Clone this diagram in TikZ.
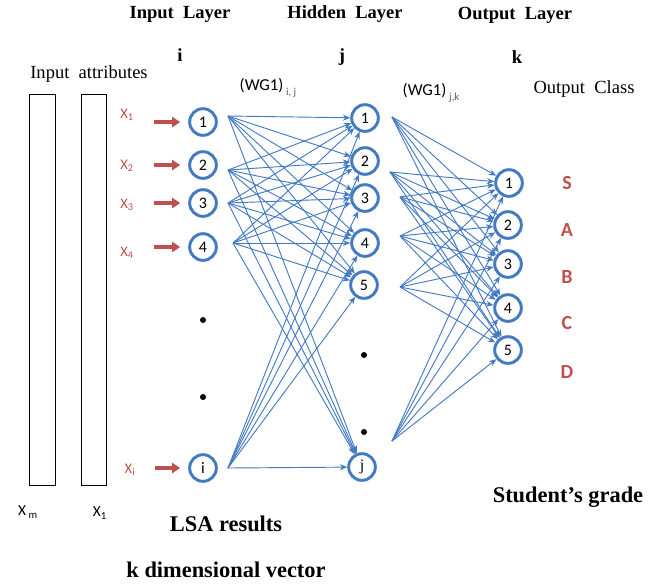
\documentclass[tikz,border=0pt]{standalone}
\usepackage{fontspec}
\setmainfont{Liberation Serif}
\newfontfamily\calib{Carlito}
\usetikzlibrary{arrows.meta}
\definecolor{nnblue}{RGB}{68,122,194}
\definecolor{nnred}{RGB}{192,80,77}
\tikzset{
  neuron/.style={circle,draw=nnblue,line width=2.2pt,minimum size=20pt,inner sep=0pt,
    font=\calib\fontsize{12}{13}\selectfont},
  layertitle/.style={font=\bfseries\fontsize{13.9}{15}\selectfont,inner sep=0.75pt},
  bigtitle/.style={font=\bfseries\fontsize{16.8}{18}\selectfont,inner sep=0.75pt},
  plaintext/.style={font=\fontsize{13.9}{15}\selectfont,inner sep=0.75pt},
  xlabel/.style={text=nnred,font=\calib\fontsize{11}{12}\selectfont,inner sep=0.75pt},
  grade/.style={text=nnred,font=\calib\bfseries\fontsize{15}{16}\selectfont,inner sep=0.75pt},
  wlabel/.style={font=\calib\fontsize{12.5}{13}\selectfont,inner sep=0.75pt},
  wt/.style={draw=nnblue,line width=0.7pt,-{Stealth[length=5.5pt,width=4.5pt]}},
  inarrow/.style={draw=nnred,line width=3pt,-{Triangle[length=6pt,width=7.5pt]},
    shorten <=14pt,shorten >=6pt},
  vdot/.style={fill=black,circle,inner sep=0pt,minimum size=4.5pt}
}
\newcommand{\wsub}[1]{\,\raisebox{-3.5pt}{\textcolor{black!65}{\fontsize{8}{9}\selectfont #1}}}
\begin{document}
\begin{tikzpicture}[x=0.75pt,y=0.75pt,yscale=-1,xscale=1]
\useasboundingbox (0,0) rectangle (670,587);

% titles
\node[layertitle] (tin) at (180,14) {Input\ \ Layer};
\node[layertitle] (thid) at (345,14) {Hidden\ \ Layer};
\node[layertitle] (tout) at (515,15) {Output\ \ Layer};
\node[layertitle] (li) at (180,55) {i};
\node[layertitle] (lj) at (342,57) {j};
\node[layertitle] (lk) at (517,57) {k};
\node[plaintext] (tattr) at (89,74) {Input\ \ attributes};
\node[plaintext] (tclass) at (584,89) {Output\ \ Class};
\node[wlabel] (wij) at (268,88) {(WG1)\wsub{i, j}};
\node[wlabel] (wjk) at (431,93) {(WG1)\wsub{j,k}};

% attribute columns
\draw[line width=0.6pt] (29,94) rectangle (55,485);
\draw[line width=0.6pt] (81,94) rectangle (106,485);
\node[font=\calib\fontsize{11.5}{12}\selectfont,inner sep=0.75pt] (xm) at (28,512) {X\,\textsubscript{m}};
\node[font=\calib\fontsize{11.5}{12}\selectfont,inner sep=0.75pt] (xone) at (100,513) {X\textsubscript{1}};

% input layer
\node[neuron] (in1) at (203,122) {1};
\node[neuron] (in2) at (203,165) {2};
\node[neuron] (in3) at (203,203) {3};
\node[neuron] (in4) at (203,247) {4};
\node[neuron] (ini) at (203,468) {i};
\node[vdot] (d1) at (203,320) {};
\node[vdot] (d2) at (203,397) {};

% hidden layer
\node[neuron] (h1) at (365,118) {1};
\node[neuron] (h2) at (365,161) {2};
\node[neuron] (h3) at (365,198) {3};
\node[neuron] (h4) at (365,243) {4};
\node[neuron] (h5) at (364,285) {5};
\node[neuron,font=\fontsize{12}{13}\selectfont] (hj) at (362,467) {j};
\node[vdot] (d3) at (364,355) {};
\node[vdot] (d4) at (364,432) {};

% output layer
\node[neuron] (o1) at (509,183) {1};
\node[neuron] (o2) at (508,225) {2};
\node[neuron] (o3) at (508,264) {3};
\node[neuron] (o4) at (508,308) {4};
\node[neuron] (o5) at (508,350) {5};

% grades
\node[grade] (gS) at (567,183) {S};
\node[grade] (gA) at (567,230) {A};
\node[grade] (gB) at (567,277) {B};
\node[grade] (gC) at (567,323) {C};
\node[grade] (gD) at (567,372) {D};

% input values
\node[xlabel] (x1) at (127,115) {X\textsubscript{1}};
\node[xlabel] (x2) at (127,166) {X\textsubscript{2}};
\node[xlabel] (x3) at (127,205) {X\textsubscript{3}};
\node[xlabel] (x4) at (127,253) {X\textsubscript{4}};
\node[xlabel] (xi) at (130,470) {X\textsubscript{i}};
\foreach \n in {1,2,3,4,i}
  \draw[inarrow] (x\n.east |- in\n) -- (in\n);

% ports
\foreach \n/\x/\y in {1/228/116, 2/228/170, 3/228/203, 4/233/243, i/228/468}
  \coordinate (in\n-out) at (\x,\y);
\foreach \n/\x/\y in {1/392/117, 2/390/172, 3/400/197, 4/400/236, 5/400/287, j/392/441}
  \coordinate (h\n-out) at (\x,\y);

% weights
\foreach \a in {1,2,3,4,i}
  \foreach \b in {1,2,3,4,5,j}
    \draw[wt] (in\a-out) -- (h\b);
\foreach \a in {1,2,3,4,5,j}
  \foreach \b in {1,2,3,4,5}
    \draw[wt] (h\a-out) -- (o\b);

% bottom captions
\node[bigtitle] (lsa) at (226,524) {LSA results};
\node[bigtitle] (kdim) at (226,570) {k dimensional vector};
\node[bigtitle] (grd) at (568,497) {Student’s grade};

\end{tikzpicture}
\end{document}
